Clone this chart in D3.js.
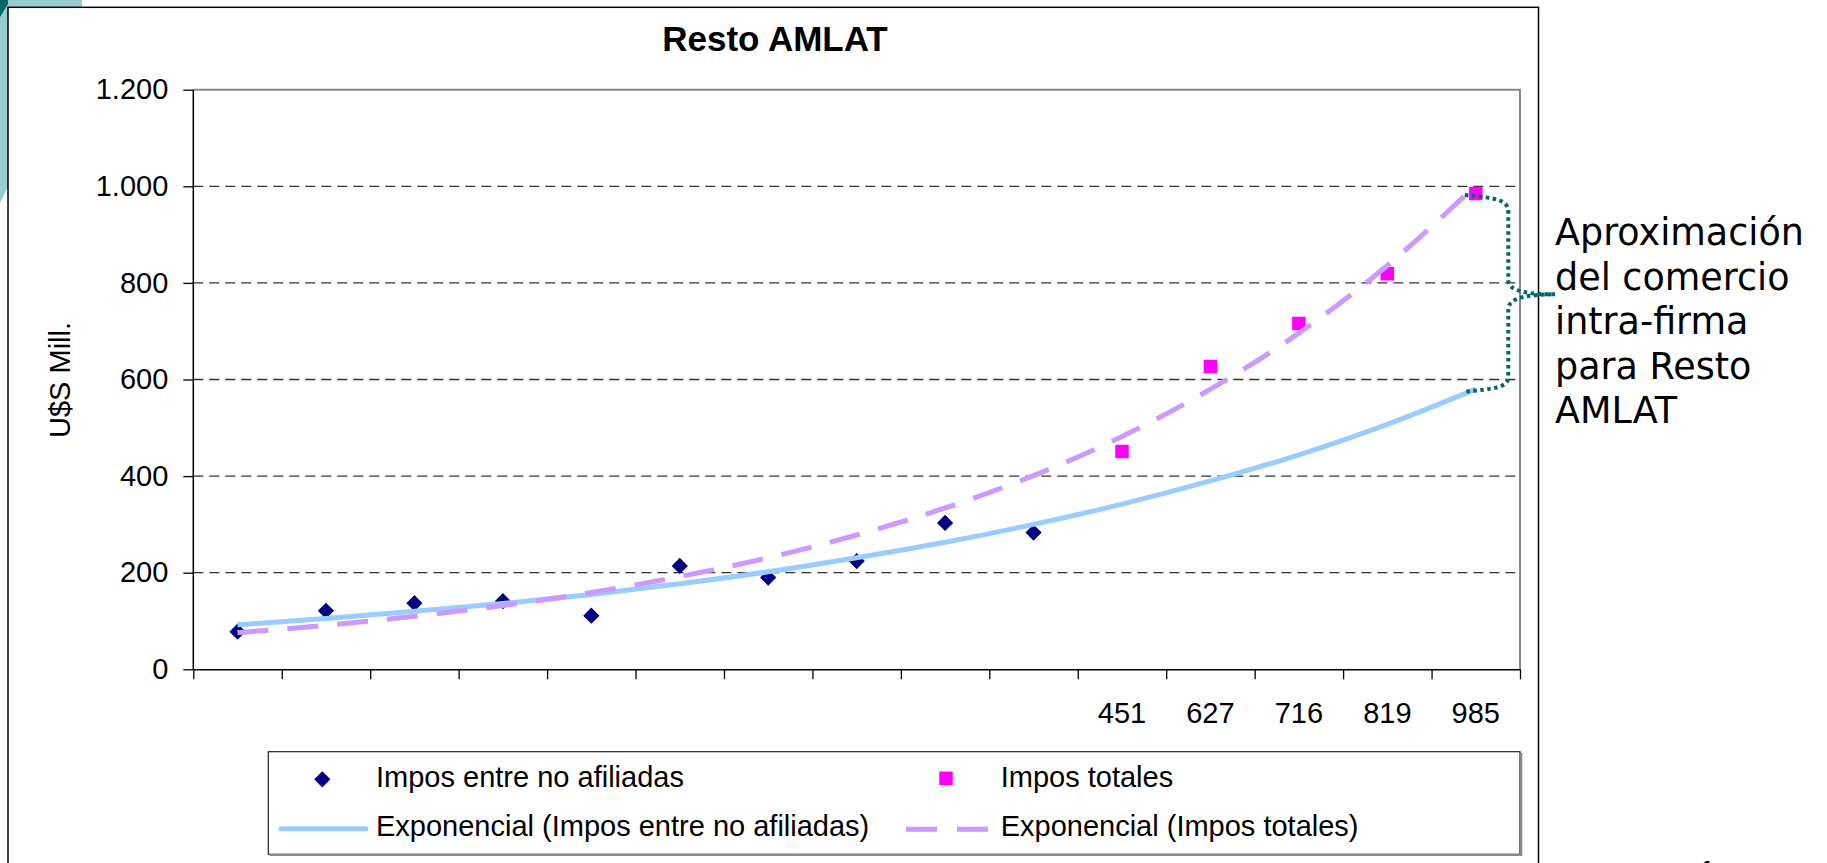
<!DOCTYPE html>
<html>
<head>
<meta charset="utf-8">
<script src="https://cdn.jsdelivr.net/npm/d3@7"></script>
<style>
  html, body { margin: 0; padding: 0; background: #ffffff; }
  svg { display: block; }
  text { font-family: "Liberation Sans", Arial, sans-serif; fill: #000; }
</style>
</head>
<body>
<svg id="chart" width="1827" height="863"></svg>
<script>
// ---------------- data ----------------
const categories = d3.range(1, 16);                       // 15 periods
const xTickLabels = ["", "", "", "", "", "", "", "", "", "", "451", "627", "716", "819", "985"];
const noAfiliadas = [78, 121, 137, 141, 111, 214, 190, 224, 303, 283, null, null, null, null, null];
const totales     = [null, null, null, null, null, null, null, null, null, null, 451, 627, 716, 819, 985];
const trendNoAfiliadas = [92, 105, 120, 136, 155, 177, 202, 231, 263, 300, 342, 390, 444, 507, 580];
const trendTotales     = [76, 91, 110, 132, 159, 192, 231, 278, 334, 401, 482, 580, 696, 836, 1002];
const yTicks = [0, 200, 400, 600, 800, 1000, 1200];
const yTickLabels = ["0", "200", "400", "600", "800", "1.000", "1.200"];
const title = "Resto AMLAT";
const yTitle = "U$S Mill.";
const legendLabels = ["Impos entre no afiliadas", "Impos totales",
                      "Exponencial (Impos entre no afiliadas)", "Exponencial (Impos totales)"];
const noteLines = ["Aproximación", "del comercio", "intra-firma", "para Resto", "AMLAT"];

// ---------------- layout ----------------
const svg = d3.select("#chart");
const plot = { left: 193.3, right: 1520, top: 89.7, bottom: 669.3 };
const C = { navy: "#000080", magenta: "#ff00ff", blue: "#99ccff", purple: "#cc99ff",
            teal: "#99cccc", darkTeal: "#006666", brace: "#006868" };

// slide decoration (teal shape behind the chart)
svg.append("polygon").attr("points", "0,0 82,0 82,60 8,187 0,203").attr("fill", C.teal);
svg.append("polygon").attr("points", "0,0 8,0 8,4 0,17").attr("fill", C.darkTeal);

// chart area
svg.append("rect").attr("x", 8).attr("y", 7.3).attr("width", 1530.5).attr("height", 900)
  .attr("fill", "#fff").attr("stroke", "#000").attr("stroke-width", 1.5);

const x = d3.scaleBand().domain(categories).range([plot.left, plot.right]).paddingInner(0).paddingOuter(0);
const xb = d3.scaleLinear().domain([0, categories.length]).range([plot.left, plot.right]);
const y = d3.scaleLinear().domain([0, 1200]).range([plot.bottom, plot.top]);
const cx = (d, i) => x(categories[i]) + x.bandwidth() / 2;

// gridlines
svg.append("g").selectAll("line").data(yTicks.filter(v => v > 0 && v < 1200)).join("line")
  .attr("x1", plot.left).attr("x2", plot.right)
  .attr("y1", d => y(d)).attr("y2", d => y(d))
  .attr("stroke", "#333").attr("stroke-width", 1.3).attr("stroke-dasharray", "10,6");

// plot frame top / right (gray)
svg.append("path")
  .attr("d", `M${plot.left},${y(1200)} H${plot.right} V${plot.bottom}`)
  .attr("fill", "none").attr("stroke", "#8a8a8a").attr("stroke-width", 2);

// y axis
const yAxis = svg.append("g").attr("transform", `translate(${plot.left},0)`)
  .call(d3.axisLeft(y).tickValues(yTicks).tickFormat((d, i) => yTickLabels[i]).tickSize(10).tickPadding(15).tickSizeOuter(0));
yAxis.select(".domain").remove();
yAxis.selectAll("line").attr("stroke", "#000").attr("stroke-width", 1.3);
yAxis.selectAll("text").style("font-family", "Liberation Sans, Arial, sans-serif").style("font-size", "29px").attr("fill", "#000");
svg.append("line").attr("x1", plot.left).attr("x2", plot.left).attr("y1", plot.top).attr("y2", plot.bottom)
  .attr("stroke", "#000").attr("stroke-width", 1.5);

// x axis (ticks at category boundaries)
const xAxis = svg.append("g").attr("transform", `translate(0,${plot.bottom})`)
  .call(d3.axisBottom(xb).tickValues(d3.range(categories.length + 1)).tickFormat("").tickSize(10).tickSizeOuter(0));
xAxis.select(".domain").attr("stroke", "#000").attr("stroke-width", 1.5);
xAxis.selectAll("line").attr("stroke", "#000").attr("stroke-width", 1.3);
svg.append("g").selectAll("text").data(xTickLabels).join("text")
  .attr("x", (d, i) => cx(d, i)).attr("y", 723)
  .attr("text-anchor", "middle").style("font-size", "29px").text(d => d);

// markers
const diamond = d3.symbol(d3.symbolSquare, 132)();
const square = d3.symbol(d3.symbolSquare, 182)();
svg.append("g").selectAll("path").data(noAfiliadas.map((v, i) => ({ v, i })).filter(d => d.v != null)).join("path")
  .attr("d", diamond).attr("fill", C.navy)
  .attr("transform", d => `translate(${cx(null, d.i)},${y(d.v)}) rotate(45)`);
svg.append("g").selectAll("path").data(totales.map((v, i) => ({ v, i })).filter(d => d.v != null)).join("path")
  .attr("d", square).attr("fill", C.magenta)
  .attr("transform", d => `translate(${cx(null, d.i)},${y(d.v)})`);

// trend lines
const line = d3.line().x(d => cx(null, d.i)).y(d => y(d.v)).curve(d3.curveMonotoneX);
svg.append("path").datum(trendNoAfiliadas.map((v, i) => ({ v, i })))
  .attr("d", line).attr("fill", "none").attr("stroke", C.blue).attr("stroke-width", 5);
svg.append("path").datum(trendTotales.map((v, i) => ({ v, i })))
  .attr("d", line).attr("fill", "none").attr("stroke", C.purple).attr("stroke-width", 5)
  .attr("stroke-dasharray", "31,19");

// title & y title
svg.append("text").attr("x", 775).attr("y", 51).attr("text-anchor", "middle")
  .style("font-size", "35px").style("font-weight", "bold").text(title);
svg.append("text").attr("transform", "translate(70,380) rotate(-90)").attr("text-anchor", "middle")
  .style("font-size", "29px").text(yTitle);

// legend
const lg = svg.append("g");
lg.append("rect").attr("x", 268.3).attr("y", 751.7).attr("width", 1251.7).attr("height", 102.6)
  .attr("fill", "#fff").attr("stroke", "#222").attr("stroke-width", 1.2);
lg.append("path").attr("d", "M269.5,855 H1521.3 V753").attr("fill", "none").attr("stroke", "#8a8a8a").attr("stroke-width", 2);
lg.append("path").attr("d", diamond).attr("fill", C.navy).attr("transform", "translate(322.3,779.3) rotate(45)");
lg.append("path").attr("d", square).attr("fill", C.magenta).attr("transform", "translate(946,778.3)");
lg.append("line").attr("x1", 281).attr("x2", 366).attr("y1", 828.7).attr("y2", 828.7)
  .attr("stroke", C.blue).attr("stroke-width", 5).attr("stroke-linecap", "round");
lg.append("line").attr("x1", 906).attr("x2", 990).attr("y1", 829.3).attr("y2", 829.3)
  .attr("stroke", C.purple).attr("stroke-width", 5).attr("stroke-dasharray", "31,20");
const legPos = [[376, 787], [1000.7, 787], [376, 836], [1000.7, 836]];
lg.selectAll("text").data(legendLabels).join("text")
  .attr("x", (d, i) => legPos[i][0]).attr("y", (d, i) => legPos[i][1])
  .style("font-size", "29px").text(d => d);

// brace annotation (anchored to the last period)
const last = categories.length - 1;
const xs = cx(null, last) - 11;
const xv = plot.right - 11.7;
const yT = y(totales[last]) + 1.5;
const yB = y(trendNoAfiliadas[last]) + 2.5;
const ym = (yT + yB) / 2 + 1;
const tipX = 1555;
const bracePath = `M${xs},${yT} C${xv - 14},${yT + 3} ${xv},${yT + 4} ${xv},${yT + 17}
  L${xv},${ym - 14} C${xv},${ym - 3} ${xv + 20},${ym} ${tipX},${ym}
  C${xv + 20},${ym} ${xv},${ym + 3} ${xv},${ym + 15}
  L${xv},${yB - 15} C${xv},${yB - 4} ${xv - 14},${yB - 3} ${xs},${yB}`;
svg.append("path").attr("d", bracePath).attr("fill", "none")
  .attr("stroke", C.brace).attr("stroke-width", 4).attr("stroke-dasharray", "3.5,3.5");

svg.append("g").selectAll("text").data(noteLines).join("text")
  .attr("x", 1555).attr("y", (d, i) => 245 + i * 44.6)
  .style("font-family", "DejaVu Sans, Verdana, sans-serif").style("font-size", "36.5px").text(d => d);

// page number peeking at bottom
svg.append("text").attr("x", 1707).attr("y", 887).attr("text-anchor", "middle")
  .style("font-size", "36px").text("1");
</script>
</body>
</html>
